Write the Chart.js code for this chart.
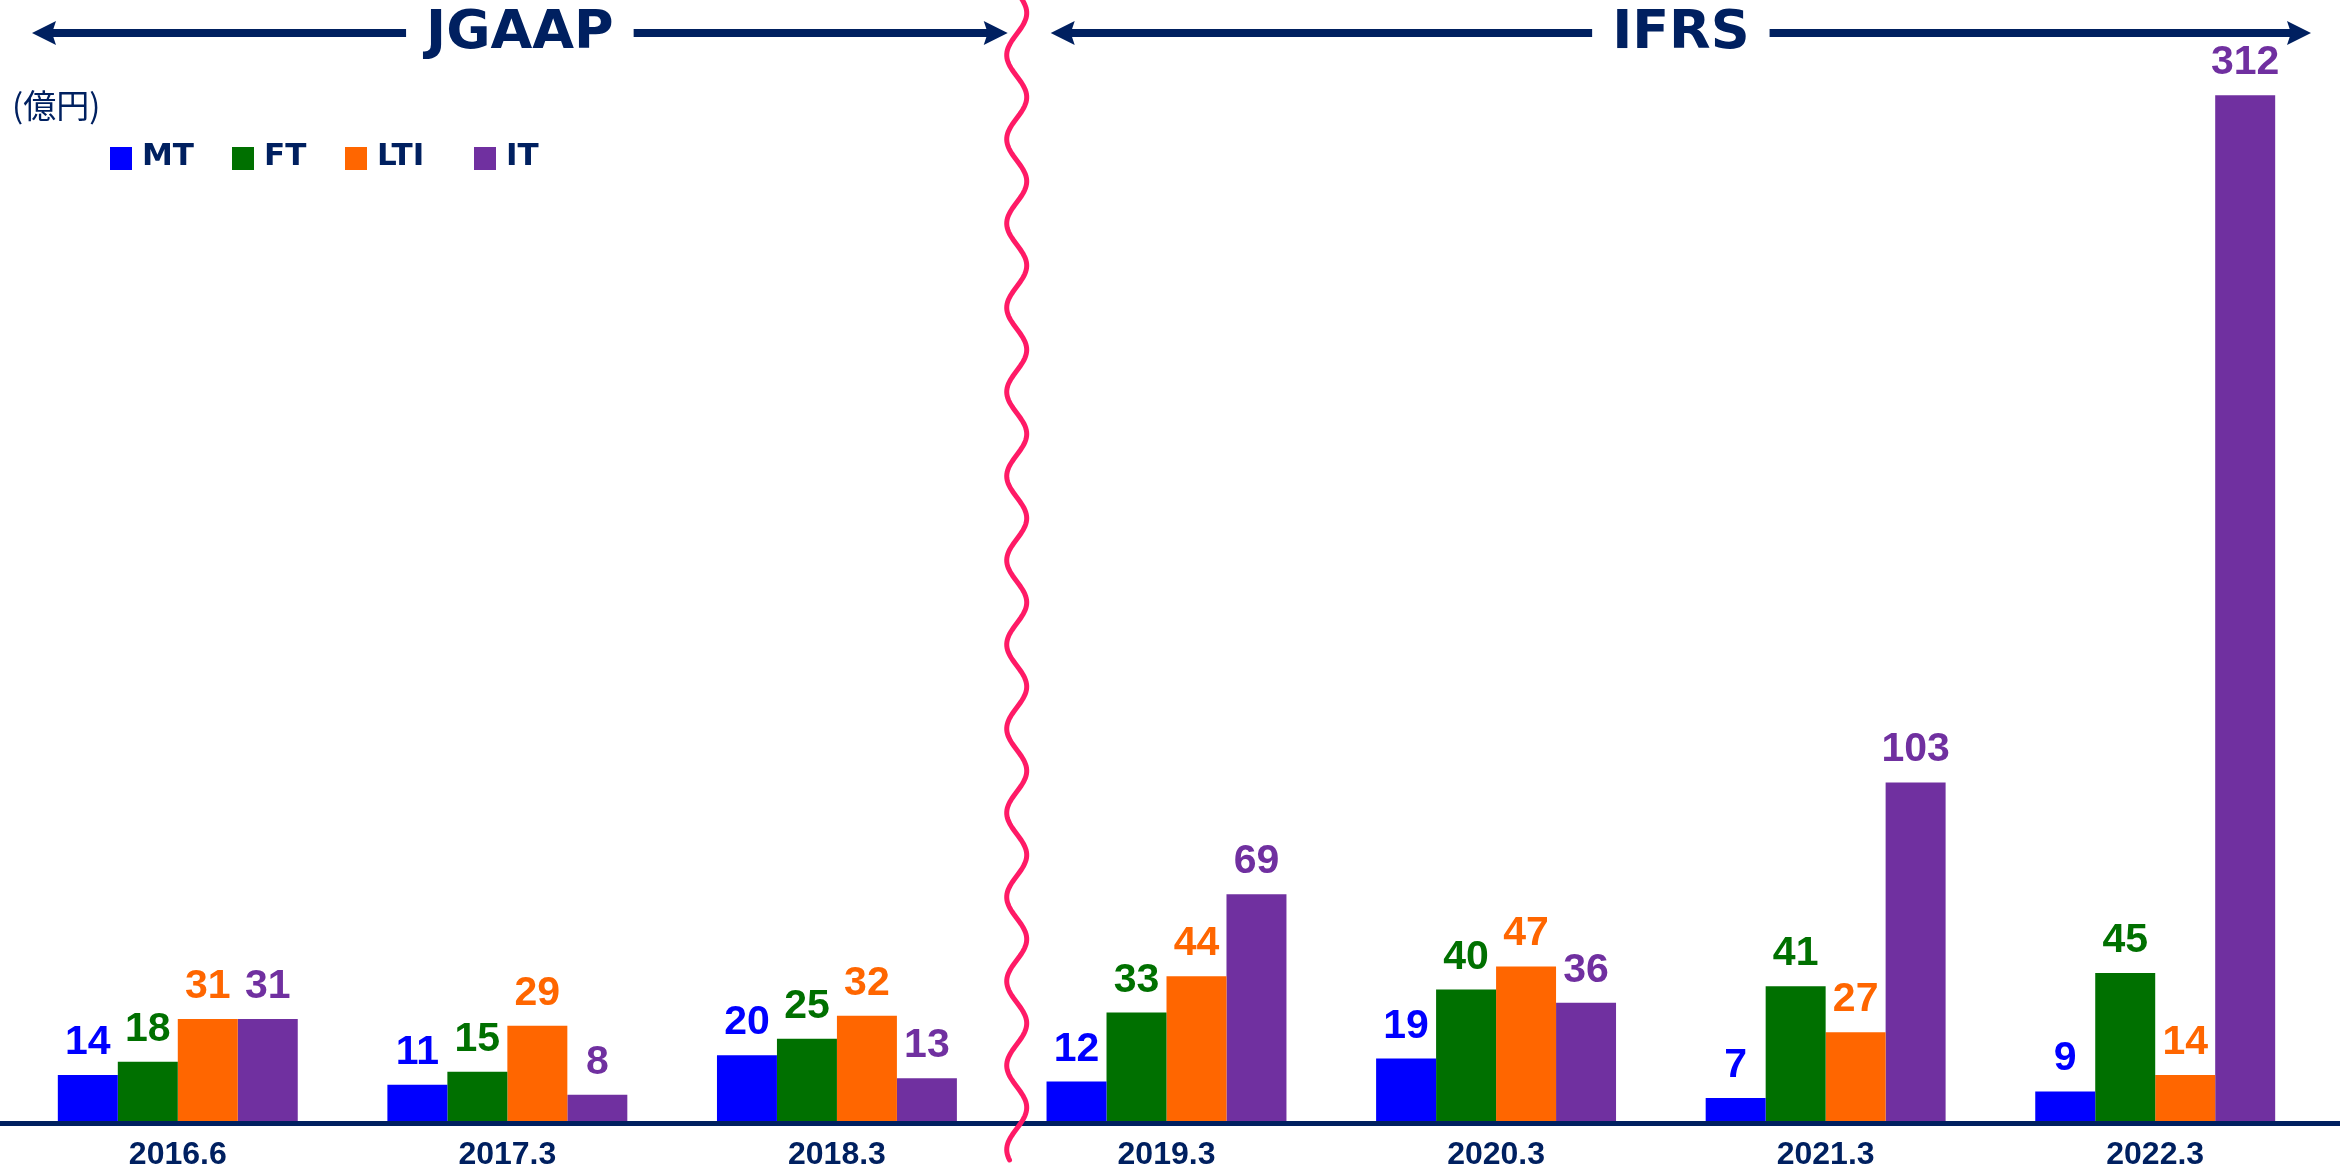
<!DOCTYPE html>
<html><head><meta charset="utf-8">
<script src="https://cdn.jsdelivr.net/npm/chart.js@4.4.1/dist/chart.umd.min.js"></script>
<style>html,body{margin:0;padding:0;background:#fff;overflow:hidden}#wrap{width:2348px;height:1175px;position:relative}</style>
</head><body><div id="wrap"><canvas id="c" width="2348" height="1175"></canvas></div>
<script>
const categories = ['2016.6','2017.3','2018.3','2019.3','2020.3','2021.3','2022.3'];
const seriesNames = ['MT','FT','LTI','IT'];
const mtValues  = [14, 11, 20, 12, 19, 7, 9];
const ftValues  = [18, 15, 25, 33, 40, 41, 45];
const ltiValues = [31, 29, 32, 44, 47, 27, 14];
const itValues  = [31, 8, 13, 69, 36, 103, 312];
const periodLabels = ['JGAAP', 'IFRS'];
const unitLabel = '(億円)';

const colors = ['#0000FF', '#007000', '#FF6600', '#7030A0'];
const NAVY = '#002060';
const WAVE = '#FF1A66';
const LABEL_FONT = 'bold 41px "Liberation Sans", Arial, sans-serif';
const HEAD_FONT = 'bold 54px "DejaVu Sans", Verdana, sans-serif';
const LEG_FONT = 'bold 31px "DejaVu Sans", Verdana, sans-serif';
const UNIT_FONT = '33px "Noto Sans CJK JP", sans-serif';

const seriesValues = [mtValues, ftValues, ltiValues, itValues];

function arrowHead(ctx, tipX, y, dir) {
  ctx.beginPath();
  ctx.moveTo(tipX, y);
  ctx.lineTo(tipX - dir * 24, y - 12);
  ctx.lineTo(tipX - dir * 20, y);
  ctx.lineTo(tipX - dir * 24, y + 12);
  ctx.closePath();
  ctx.fill();
}

function periodArrow(ctx, x1, x2, text, y) {
  ctx.save();
  ctx.font = HEAD_FONT;
  ctx.fillStyle = NAVY;
  ctx.strokeStyle = NAVY;
  const cx = (x1 + x2) / 2;
  const w = ctx.measureText(text).width;
  ctx.lineWidth = 8;
  ctx.beginPath();
  ctx.moveTo(x1 + 18, y); ctx.lineTo(cx - w / 2 - 20, y);
  ctx.moveTo(cx + w / 2 + 20, y); ctx.lineTo(x2 - 18, y);
  ctx.stroke();
  arrowHead(ctx, x1, y, -1);
  arrowHead(ctx, x2, y, 1);
  ctx.textAlign = 'center';
  ctx.textBaseline = 'alphabetic';
  ctx.fillText(text, cx, y + 15);
  ctx.restore();
}

const overlay = {
  id: 'overlay',
  afterDatasetsDraw(chart) {
    const ctx = chart.ctx;
    const area = chart.chartArea;
    const xs = chart.scales.x;

    // baseline axis
    ctx.save();
    ctx.fillStyle = NAVY;
    ctx.fillRect(0, area.bottom, 2340, 5);
    ctx.restore();

    // value labels
    ctx.save();
    ctx.font = LABEL_FONT;
    ctx.textAlign = 'center';
    ctx.textBaseline = 'alphabetic';
    chart.data.datasets.forEach((ds, di) => {
      const meta = chart.getDatasetMeta(di);
      ctx.fillStyle = ds.backgroundColor;
      meta.data.forEach((bar, i) => {
        ctx.fillText(String(ds.data[i]), bar.x, bar.y - 21);
      });
    });
    ctx.restore();

    // wavy separator between JGAAP and IFRS periods
    const sepX = (xs.getPixelForValue(2) + xs.getPixelForValue(3)) / 2 + 15;
    ctx.save();
    ctx.strokeStyle = WAVE;
    ctx.lineWidth = 5;
    ctx.lineCap = 'round';
    ctx.beginPath();
    for (let y = -10; y <= 1160; y += 2) {
      const x = sepX + 10 * Math.cos(2 * Math.PI * (y - 13) / 84.2);
      if (y === -10) ctx.moveTo(x, y); else ctx.lineTo(x, y);
    }
    ctx.stroke();
    ctx.restore();

    // period headers
    periodArrow(ctx, 32, sepX - 9, periodLabels[0], 33);
    periodArrow(ctx, sepX + 34, 2311, periodLabels[1], 33);

    // unit
    ctx.save();
    ctx.font = UNIT_FONT;
    ctx.fillStyle = NAVY;
    ctx.textBaseline = 'middle';
    ctx.fillText(unitLabel, 12, 105);
    ctx.restore();

    // legend
    const legX = [110, 232, 345, 474];
    ctx.save();
    ctx.font = LEG_FONT;
    ctx.textBaseline = 'alphabetic';
    chart.data.datasets.forEach((ds, di) => {
      ctx.fillStyle = ds.backgroundColor;
      ctx.fillRect(legX[di], 147, 22, 23);
      ctx.fillStyle = NAVY;
      ctx.fillText(ds.label, legX[di] + 32, 165);
    });
    ctx.restore();
  }
};

new Chart(document.getElementById('c'), {
  type: 'bar',
  data: {
    labels: categories,
    datasets: seriesNames.map((name, i) => ({
      label: name,
      data: seriesValues[i],
      backgroundColor: colors[i],
      borderWidth: 0,
      categoryPercentage: 0.728,
      barPercentage: 1.0
    }))
  },
  options: {
    responsive: false,
    animation: false,
    devicePixelRatio: 1,
    layout: { padding: { left: 13, right: 28, top: 0, bottom: 0 } },
    plugins: { legend: { display: false }, tooltip: { enabled: false } },
    scales: {
      x: {
        grid: { display: false, drawTicks: false },
        border: { display: false },
        ticks: {
          color: NAVY,
          font: { family: '"Liberation Sans", Arial, sans-serif', weight: 'bold', size: 32, lineHeight: 1 },
          padding: 18,
          maxRotation: 0,
          autoSkip: false
        },
        afterFit(scale) { scale.height = 54; }
      },
      y: {
        display: false,
        min: 0,
        max: 341
      }
    }
  },
  plugins: [overlay]
});
</script>
</body></html>
